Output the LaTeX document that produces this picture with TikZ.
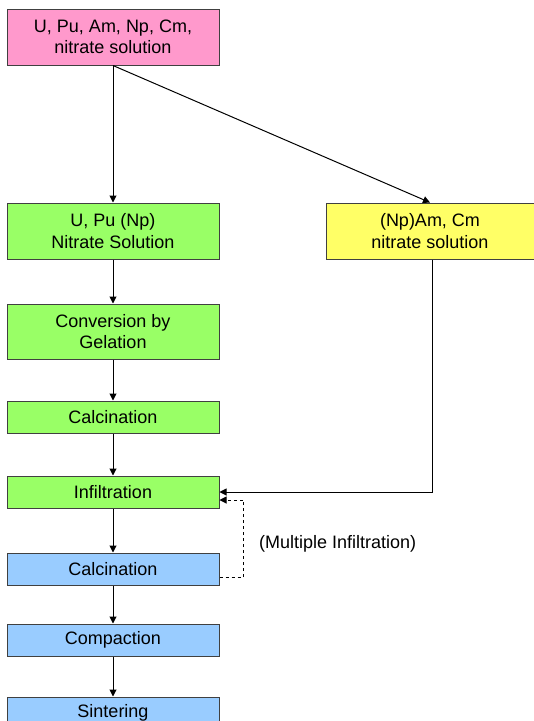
\documentclass[tikz,border=0pt]{standalone}
\usepackage{fontspec}
\setmainfont{Liberation Sans}
\usepackage{xcolor}
\usetikzlibrary{arrows.meta, positioning}

\definecolor{feedpink}{HTML}{FF99CC}
\definecolor{stepgreen}{HTML}{99FF66}
\definecolor{sideyellow}{HTML}{FFFF66}
\definecolor{stepblue}{HTML}{99CCFF}

\begin{document}
\begin{tikzpicture}[
  box/.style = {
    draw=black!75, line width=1pt, fill=#1,
    minimum width=212pt, minimum height=32pt, inner sep=1pt,
    align=center, font=\fontsize{18}{21.5}\selectfont
  },
  tall/.style  = {minimum height=56pt},
  note/.style  = {font=\fontsize{18}{21.5}\selectfont, inner sep=0pt},
  arr/.style   = {-{Triangle[length=7pt, width=7pt]}, line width=1pt, black},
  node distance = 40pt
]
\useasboundingbox (0,0) rectangle (534pt,-721pt);

\node[box=feedpink, tall] (src) at (113pt,-37pt)
  {U, Pu, Am, Np, Cm,\\ nitrate solution};

\node[box=stepgreen, tall, below=137pt of src] (upu)
  {U, Pu (Np)\\ Nitrate Solution};
\node[box=sideyellow, tall, minimum width=208pt, right=106pt of upu] (amcm)
  {(Np)Am, Cm\\ nitrate solution};

\node[box=stepgreen, minimum height=55pt, below=44pt of upu] (conv)
  {Conversion by\\ Gelation};
\node[box=stepgreen, below=41pt of conv]   (calcA) {Calcination};
\node[box=stepgreen, below=42pt of calcA]  (infil) {Infiltration};
\node[box=stepblue,  below=44pt of infil]  (calcB) {Calcination};
\node[box=stepblue,  below=38pt of calcB]  (compact) {Compaction};
\node[box=stepblue,  below=40pt of compact] (sinter) {Sintering};

\node[note, anchor=west] (multi) at (259pt,-544pt) {(Multiple Infiltration)};

\draw[arr] (src.south) -- (upu.north);
\draw[arr] (src.south) -- (amcm.north);
\draw[arr] (upu.south) -- (conv.north);
\draw[arr] (conv.south) -- (calcA.north);
\draw[arr] (calcA.south) -- (infil.north);
\draw[arr] (infil.south) -- (calcB.north);
\draw[arr] (calcB.south) -- (compact.north);
\draw[arr] (compact.south) -- (sinter.north);
\draw[arr] ([xshift=2pt]amcm.south) |- (infil.east);
\draw[arr, dashed] ([yshift=-8pt]calcB.east) -- ++(24pt,0) |- ([yshift=-8pt]infil.east);

\end{tikzpicture}
\end{document}
